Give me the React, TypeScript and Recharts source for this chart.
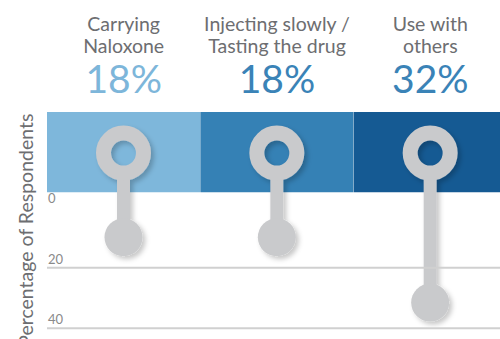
import React from "react";
import { ComposedChart, Bar, Cell, XAxis, YAxis, ReferenceLine } from "recharts";

const categories = ["Carrying Naloxone", "Injecting slowly / Tasting the drug", "Use with others"];
const titleLines = [
  ["Carrying", "Naloxone"],
  ["Injecting slowly /", "Tasting the drug"],
  ["Use with", "others"],
];
const percentages = [18, 18, 32];
const yTicks = [0, 20, 40];
const gridValues = [20, 40];

const bandColors = ["#7eb7db", "#3581b5", "#155a93"];
const percentColors = ["#7db6da", "#3a83b7", "#3a83b7"];
const GRAY = "#c9cacc";
const TEXT_GRAY = "#6d6e71";
const FONT = "Lato, 'Open Sans', sans-serif";

// the coloured strip sits above the zero line of the axis
const BAND: [number, number] = [-31.5, -5];

const data = categories.map((name, i) => ({
  name,
  value: percentages[i],
  band: BAND,
}));

const TitleTick = (props: any) => {
  const { x, y, payload } = props;
  const i = payload.index;
  const lines = titleLines[i];
  return (
    <g fontFamily={FONT} textAnchor="middle">
      <text x={x} y={y - 73} fontSize={19.5} fill={TEXT_GRAY}>{lines[0]}</text>
      <text x={x} y={y - 51} fontSize={19.5} fill={TEXT_GRAY}>{lines[1]}</text>
      <text x={x} y={y - 11} fontSize={39} fill={percentColors[i]}>
        {percentages[i]}%
      </text>
    </g>
  );
};

const ValueTick = (props: any) => {
  const { x, y, payload } = props;
  return (
    <text x={x + 9} y={y - 4} fontSize={13} fontFamily={FONT} fill="#8a8a8a" textAnchor="start">
      {payload.value}
    </text>
  );
};

const YTitle = (props: any) => {
  const vb = props.viewBox || { x: 0, y: 112, width: 47, height: 216 };
  const cx = vb.x + 33;
  const cy = vb.y + vb.height / 2 + 10;
  return (
    <text
      x={cx}
      y={cy}
      transform={`rotate(-90, ${cx}, ${cy})`}
      textAnchor="middle"
      fontSize={19.5}
      fontFamily={FONT}
      fill={TEXT_GRAY}
    >
      Percentage of Respondents
    </text>
  );
};

const Lollipop = (props: any) => {
  const { x, y, width, height } = props;
  const cx = x + width / 2;
  const top = Math.min(y, y + height);
  const bottom = Math.max(y, y + height);
  return (
    <g filter="url(#lolShadow)">
      <defs>
        <filter id="lolShadow" x="-50%" y="-50%" width="200%" height="200%">
          <feDropShadow dx="3" dy="3" stdDeviation="2.5" floodColor="#000" floodOpacity="0.22" />
        </filter>
      </defs>
      <rect x={cx - 6.5} y={top + 25} width={13} height={Math.max(bottom - top - 25, 0)} fill={GRAY} />
      <circle cx={cx} cy={bottom} r={19} fill={GRAY} />
      <circle cx={cx} cy={top} r={20} fill="none" stroke={GRAY} strokeWidth={15} />
    </g>
  );
};

export default function App() {
  return (
    <div style={{ position: "absolute", left: 0, top: 0, width: 500, height: 339, overflow: "hidden", background: "#fff" }}>
      <ComposedChart
        width={500}
        height={339}
        data={data}
        margin={{ top: 0, right: -7, bottom: 10.7, left: 0 }}
        barCategoryGap={0}
        barGap={0}
      >
        <XAxis
          xAxisId="top"
          dataKey="name"
          orientation="top"
          height={112}
          axisLine={false}
          tickLine={false}
          interval={0}
          tick={<TitleTick />}
        />
        <XAxis xAxisId="lol" dataKey="name" hide />
        <YAxis
          yAxisId="axis"
          width={47}
          reversed
          type="number"
          domain={[-31.5, 40]}
          allowDataOverflow
          ticks={yTicks}
          axisLine={false}
          tickLine={false}
          tick={<ValueTick />}
          label={<YTitle />}
        />
        <YAxis yAxisId="lol" hide reversed type="number" domain={[-8.8, 37.5]} allowDataOverflow />
        <Bar xAxisId="top" yAxisId="axis" dataKey="band" isAnimationActive={false}>
          {data.map((d, i) => (
            <Cell key={d.name} fill={bandColors[i]} />
          ))}
        </Bar>
        {gridValues.map((v) => (
          <ReferenceLine key={v} xAxisId="top" yAxisId="axis" y={v} stroke="#d0d0d0" strokeWidth={2} />
        ))}
        <Bar xAxisId="lol" yAxisId="lol" dataKey="value" shape={<Lollipop />} isAnimationActive={false} />
      </ComposedChart>
    </div>
  );
}
